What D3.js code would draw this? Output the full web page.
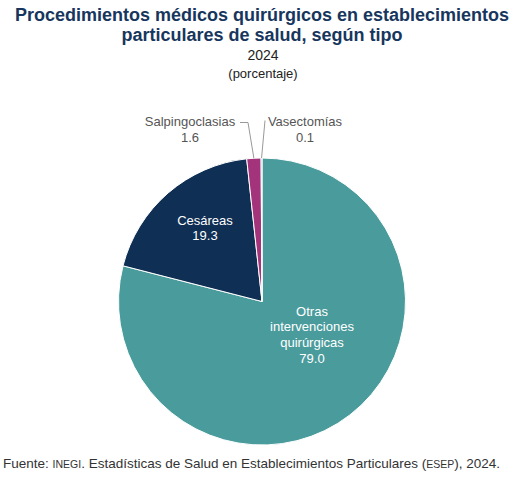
<!DOCTYPE html>
<html>
<head>
<meta charset="utf-8">
<script src="https://d3js.org/d3.v7.min.js"></script>
<style>
    body { margin: 0; background: #fff; }
    svg { font-family: "Liberation Sans", Arial, sans-serif; }
</style>
</head>
<body>
<div id="chart"></div>
<script>
    const categories = ['Otras intervenciones quirúrgicas', 'Cesáreas', 'Salpingoclasias', 'Vasectomías'];
    const values = [79.0, 19.3, 1.6, 0.1];
    const colors = ['#4a9b9c', '#0f2f55', '#a3347b', '#4a9b9c'];

    const width = 529, height = 477;
    const cx = 262, cy = 301.5, radius = 143.5;

    const svg = d3.select('#chart').append('svg')
        .attr('width', width)
        .attr('height', height);

    // titles
    const titleColor = '#17365d';
    svg.append('text').attr('x', 262).attr('y', 21)
        .attr('text-anchor', 'middle').attr('font-size', 18).attr('font-weight', 'bold')
        .attr('fill', titleColor).text('Procedimientos médicos quirúrgicos en establecimientos');
    svg.append('text').attr('x', 262).attr('y', 41)
        .attr('text-anchor', 'middle').attr('font-size', 18).attr('font-weight', 'bold')
        .attr('fill', titleColor).text('particulares de salud, según tipo');
    svg.append('text').attr('x', 263).attr('y', 60)
        .attr('text-anchor', 'middle').attr('font-size', 14).attr('fill', '#222').text('2024');
    svg.append('text').attr('x', 263).attr('y', 78)
        .attr('text-anchor', 'middle').attr('font-size', 13).attr('fill', '#222').text('(porcentaje)');

    const data = categories.map((c, i) => ({ label: c, value: values[i], color: colors[i] }));

    const pie = d3.pie().value(d => d.value).sort(null);
    const arcs = pie(data);
    const arc = d3.arc().innerRadius(0).outerRadius(radius);

    const g = svg.append('g').attr('transform', `translate(${cx},${cy})`);

    g.selectAll('path')
        .data(arcs)
        .enter()
        .append('path')
        .attr('d', arc)
        .attr('fill', d => d.data.color)
        .attr('stroke', '#fff')
        .attr('stroke-width', 1);

    // inside labels
    const inside = [
        { i: 0, lines: ['Otras', 'intervenciones', 'quirúrgicas', values[0].toFixed(1)], x: 50, y: 14 },
        { i: 1, lines: ['Cesáreas', values[1].toFixed(1)], x: -57, y: -77 }
    ];
    inside.forEach(l => {
        const t = g.append('text')
            .attr('text-anchor', 'middle')
            .attr('font-size', 13)
            .attr('fill', '#fff');
        l.lines.forEach((s, k) => {
            t.append('tspan').attr('x', l.x).attr('y', l.y + k * 15.7).text(s);
        });
    });

    // outside labels with leader lines
    const outerPt = a => {
        const ang = (a.startAngle + a.endAngle) / 2;
        return [radius * Math.sin(ang), -radius * Math.cos(ang)];
    };
    const outside = [
        { i: 2, x: -72, y: -176, lx: -22, ly: -179 },
        { i: 3, x: 43, y: -176, lx: 3, ly: -181 }
    ];
    outside.forEach(l => {
        const p = outerPt(arcs[l.i]);
        const pts = l.i === 2
            ? [p, [l.lx + 8, l.ly], [l.lx, l.ly]]
            : [p, [l.lx, l.ly]];
        g.append('path')
            .attr('d', d3.line()(pts))
            .attr('fill', 'none')
            .attr('stroke', '#999')
            .attr('stroke-width', 1);
        const t = g.append('text')
            .attr('text-anchor', 'middle')
            .attr('font-size', 13)
            .attr('fill', '#555');
        t.append('tspan').attr('x', l.x).attr('y', l.y).text(categories[l.i]);
        t.append('tspan').attr('x', l.x).attr('y', l.y + 16).text(values[l.i].toFixed(1));
    });

    // source
    const src = svg.append('text').attr('x', 3).attr('y', 468)
        .attr('font-size', 13.5).attr('fill', '#333');
    src.append('tspan').text('Fuente: ');
    src.append('tspan').attr('font-size', 10.5).text('INEGI');
    src.append('tspan').text('. Estadísticas de Salud en Establecimientos Particulares (');
    src.append('tspan').attr('font-size', 10.5).text('ESEP');
    src.append('tspan').text('), 2024.');
</script>
</body>
</html>
